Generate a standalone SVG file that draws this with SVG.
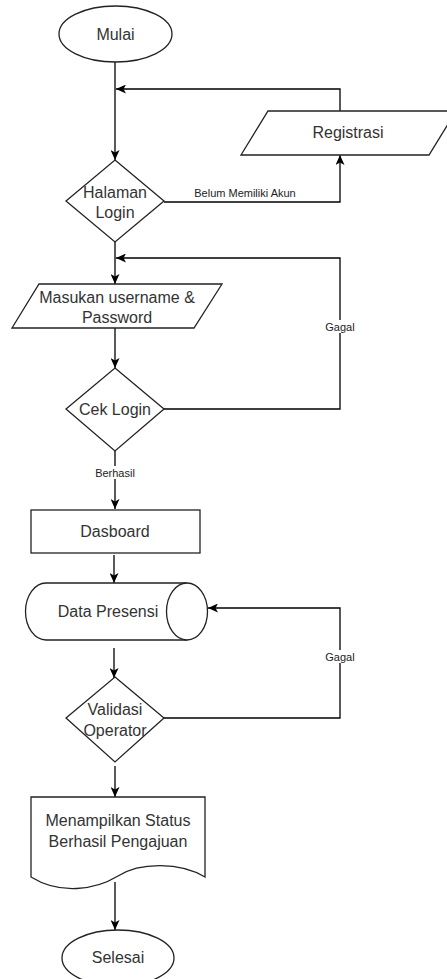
<svg xmlns="http://www.w3.org/2000/svg" width="447" height="979" viewBox="0 0 447 979">
<defs>
<marker id="arr" markerUnits="userSpaceOnUse" markerWidth="11" markerHeight="9" refX="10" refY="4.5" orient="auto">
<path d="M0,0 L10,4.5 L0,9 L2.5,4.5 Z" fill="#000"/>
</marker>
<style>
.s{fill:#fff;stroke:#222;stroke-width:1.3}
.t{font-family:"Liberation Sans",Arial,sans-serif;font-size:16px;fill:#333;text-anchor:middle}
.l{font-family:"Liberation Sans",Arial,sans-serif;font-size:11px;fill:#222;text-anchor:middle}
.c{fill:none;stroke:#000;stroke-width:1.3;marker-end:url(#arr)}
.bg{fill:#fff}
</style>
</defs>
<rect width="447" height="979" fill="#fff"/>
<g id="connectors">
<path class="c" d="M115,62 V160"/>
<path class="c" d="M340,111 V89 H116"/>
<path class="c" d="M164,202 H340 V155"/>
<path class="c" d="M115,242 V284"/>
<path class="c" d="M164,409 H340 V258 H116"/>
<path class="c" d="M115,328 V368"/>
<path class="c" d="M115,451 V509"/>
<path class="c" d="M114,555 V583"/>
<path class="c" d="M114,648 V678"/>
<path class="c" d="M164,718 H340 V608 H208"/>
<path class="c" d="M115,766 V797"/>
<path class="c" d="M115,882 V930"/>
<text class="l" x="245" y="197">Belum Memiliki Akun</text>
<rect class="bg" x="322" y="320" width="36" height="13"/>
<text class="l" x="340" y="331">Gagal</text>
<rect class="bg" x="94" y="466" width="42" height="13"/>
<text class="l" x="115" y="477">Berhasil</text>
<rect class="bg" x="322" y="650" width="36" height="13"/>
<text class="l" x="340" y="661">Gagal</text>
</g>
<g id="mulai">
<ellipse class="s" cx="115.5" cy="34" rx="56.5" ry="28"/>
<text class="t" x="115.5" y="39.5">Mulai</text>
</g>
<g id="registrasi">
<path class="s" d="M268,111 H456 L429,155 H241 Z"/>
<text class="t" x="348" y="137.5">Registrasi</text>
</g>
<g id="halaman-login">
<path class="s" d="M115,160 L164,201 L115,242 L66,201 Z"/>
<text class="t" x="115" y="198">Halaman</text>
<text class="t" x="115" y="218">Login</text>
</g>
<g id="masukan">
<path class="s" d="M39,284 H222 L194,328 H12 Z"/>
<text class="t" x="117" y="302.5">Masukan username &amp;</text>
<text class="t" x="117" y="322.5">Password</text>
</g>
<g id="cek-login">
<path class="s" d="M115,368 L164,409 L115,451 L66,409 Z"/>
<text class="t" x="115" y="414.5">Cek Login</text>
</g>
<g id="dasboard">
<rect class="s" x="31" y="510" width="169" height="43"/>
<text class="t" x="115" y="536.5">Dasboard</text>
</g>
<g id="data-presensi">
<path class="s" d="M46,583 H187 A20.5,28.5 0 0 1 187,640 H46 A20.5,28.5 0 0 1 46,583 Z"/>
<path class="s" d="M187,583 A20.5,28.5 0 0 0 187,640" fill="none"/>
<text class="t" x="108" y="616.5">Data Presensi</text>
</g>
<g id="validasi-operator">
<path class="s" d="M115,677 L164,718 L115,762 L66,718 Z"/>
<text class="t" x="115" y="714.5">Validasi</text>
<text class="t" x="115" y="735.5">Operator</text>
</g>
<g id="menampilkan-status">
<path class="s" d="M31,797 H205 V877 C180,862 140,862 118,876 C95,890 60,895 31,877 Z"/>
<text class="t" x="118" y="825.5">Menampilkan Status</text>
<text class="t" x="118" y="846.5">Berhasil Pengajuan</text>
</g>
<g id="selesai">
<ellipse class="s" cx="118" cy="958" rx="56" ry="28"/>
<text class="t" x="118" y="962.5">Selesai</text>
</g>
</svg>
